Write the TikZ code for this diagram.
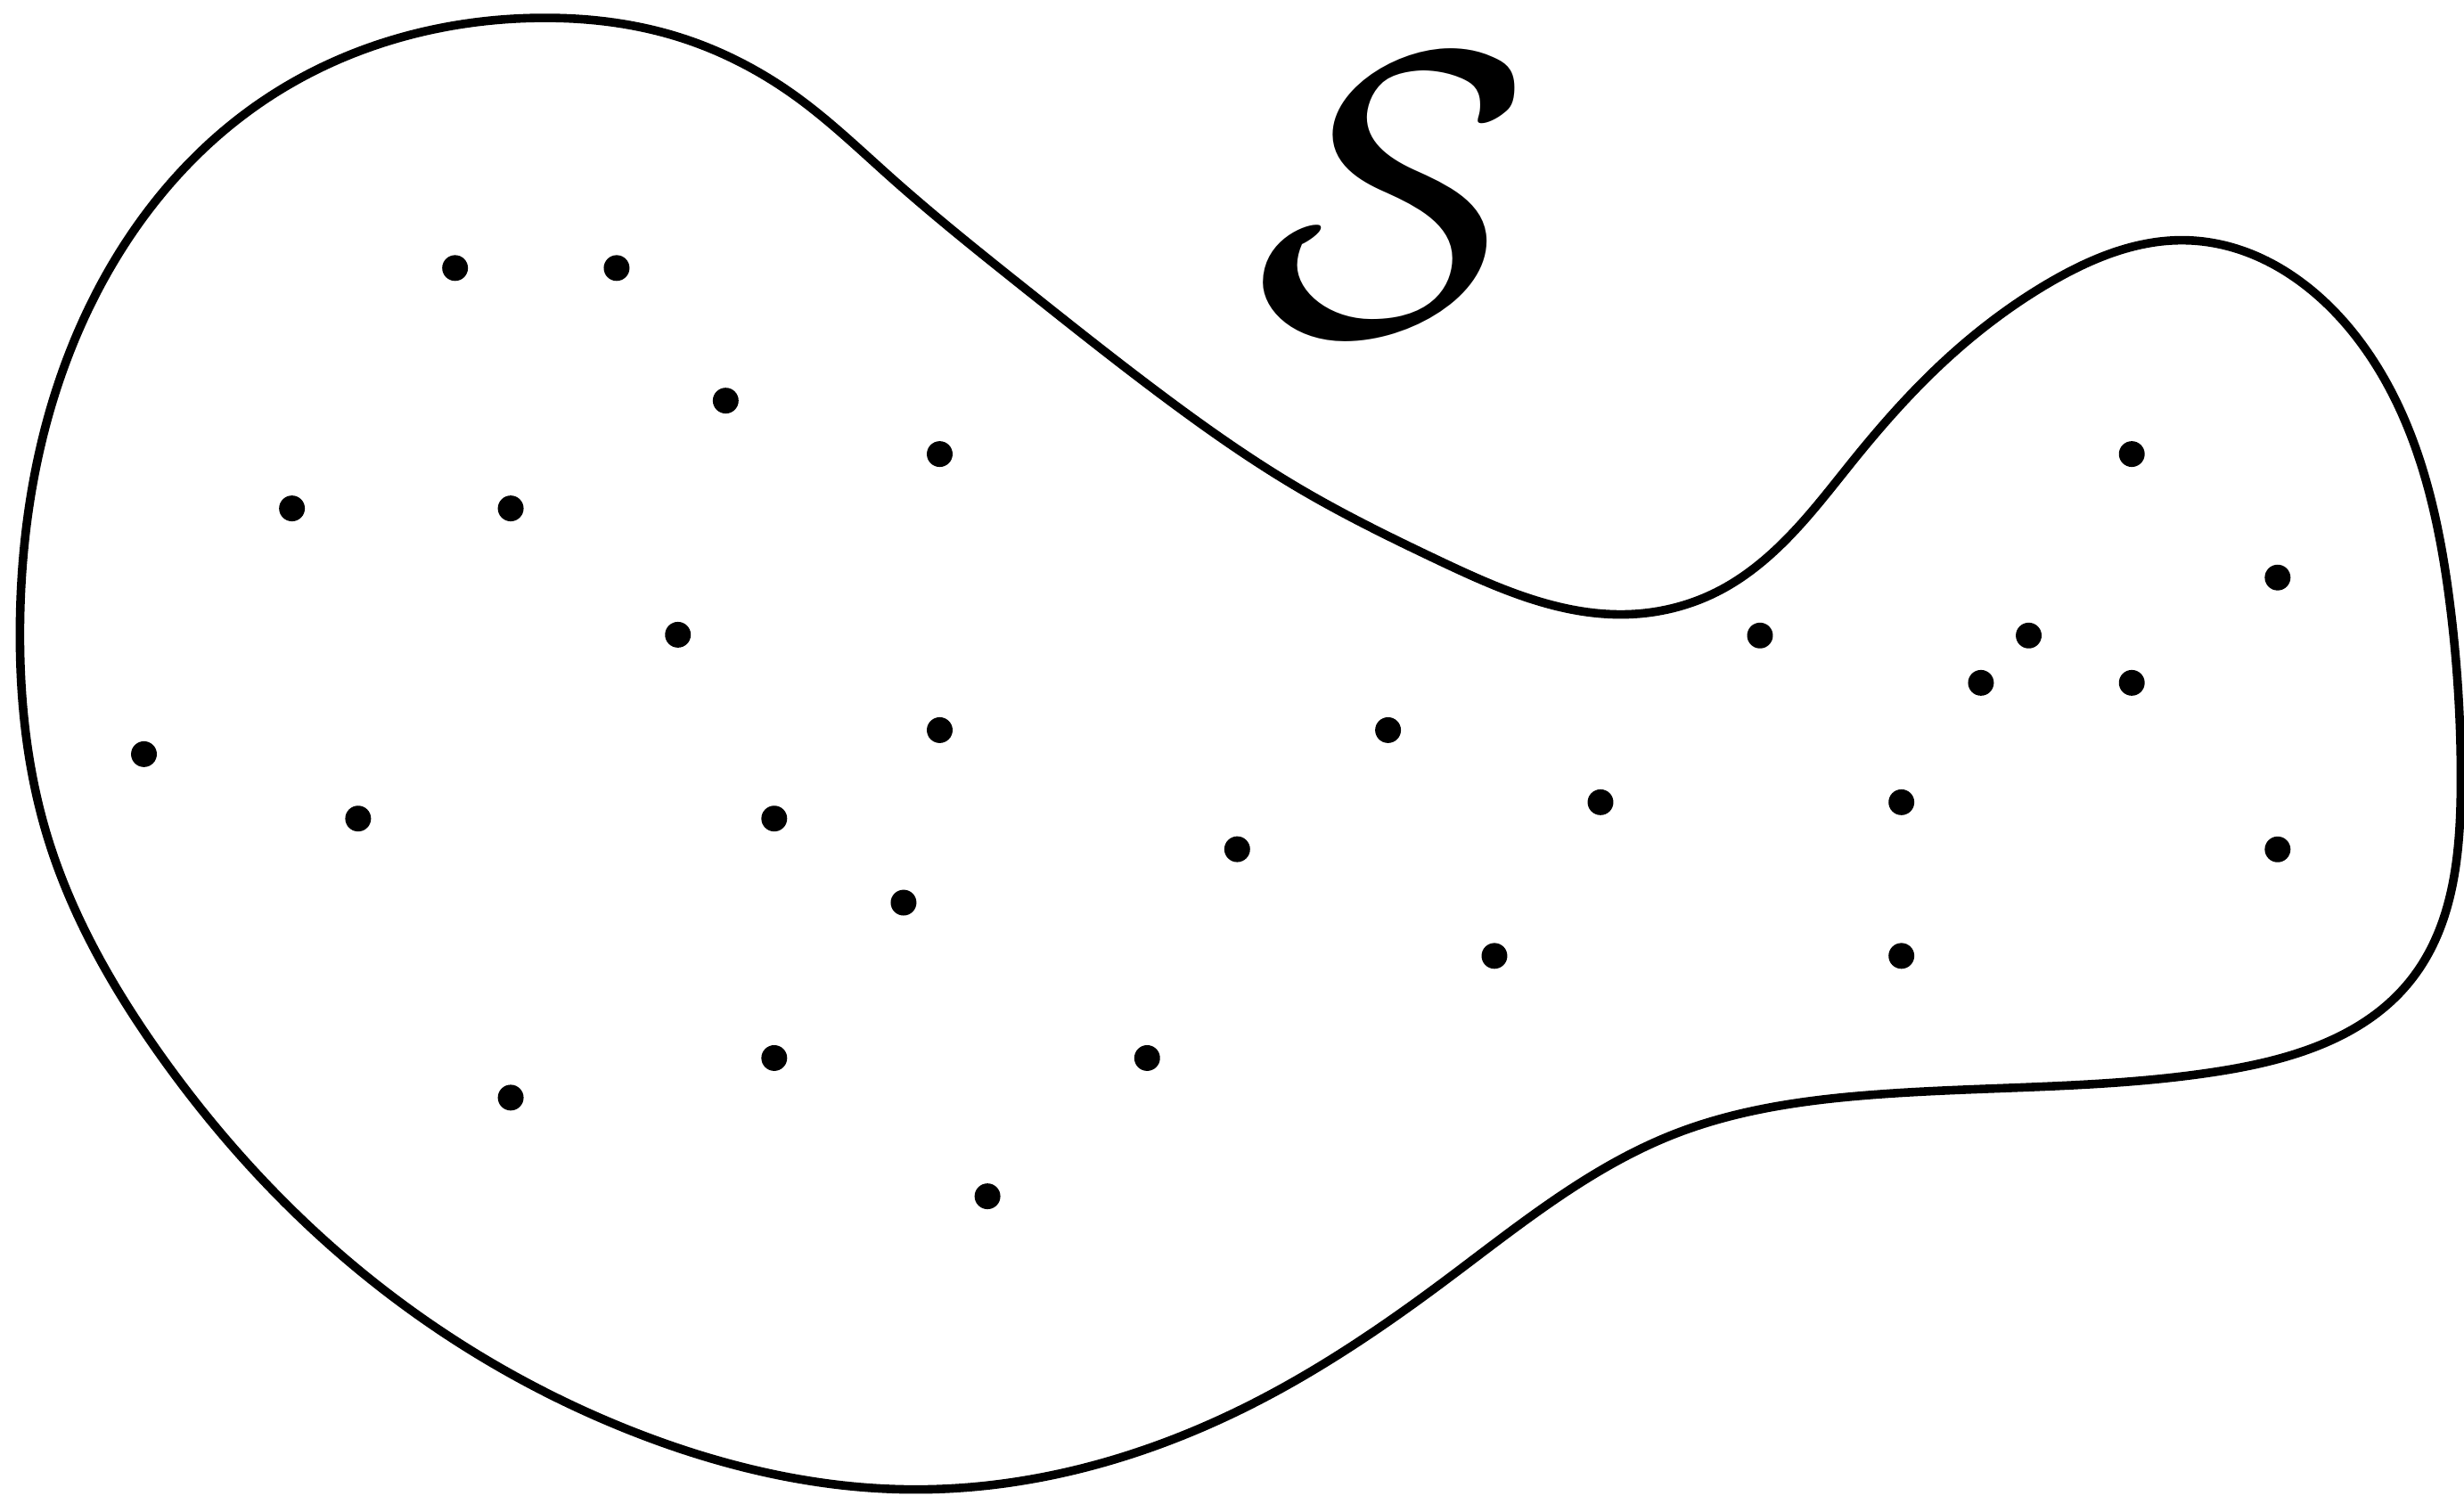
\documentclass[tikz,border=0pt]{standalone}
\usetikzlibrary{hobby}
\begin{document}
\begin{tikzpicture}[x=0.01cm,y=-0.01cm,
  outline/.style={draw=black,line width=1.55pt},
  dot/.style={circle,fill=black,inner sep=0pt,minimum size=0.164cm}]
\useasboundingbox (0,0) rectangle (1568,952);
\draw[outline,use Hobby shortcut,closed=true]
 (344,11.4) .. (430,23) .. (506,61) .. (567,113) .. (654,185) .. (740,252)
 .. (827,311) .. (914,356) .. (1036,391) .. (1094,376) .. (1140,340)
 .. (1181,291) .. (1235,232) .. (1304,180) .. (1393,153) .. (1500,215) .. (1559,384)
 .. (1566,500) .. (1534,624) .. (1411,682) .. (1189,697) .. (1065,722)
 .. (917,817) .. (794,895) .. (582,948) .. (405,912) .. (228,808) .. (101,670)
 .. (30,532) .. (12.7,400) .. (50.6,209) .. (167,64.5);
\foreach \p [count=\i] in {
(289.6,170.6),(392.4,170.6),(461.8,255),(598,289),(185.8,323.6),(325,323.6),
(431.4,404),(598,464.7),(91.6,480),(227.9,521),(492.7,521),(787.3,540.5),
(575,574.5),(492.7,673.4),(730,673.4),(325,698.6),(628.4,761.4),
(1356.6,289),(1449.4,367.6),(1120,404.5),(1291,404.5),(1260.6,434.6),
(1356.6,434.6),(883.3,464.7),(1018.5,510.6),(1210,510.6),(1449.4,540.6),
(951,608.4),(1210,608.4)}
  \node[dot] (d\i) at \p {};
\node[inner sep=0pt] (S) at (877,124.5) {\fontsize{70}{70}\usefont{OMS}{zplm}{m}{n}S};
\end{tikzpicture}
\end{document}
